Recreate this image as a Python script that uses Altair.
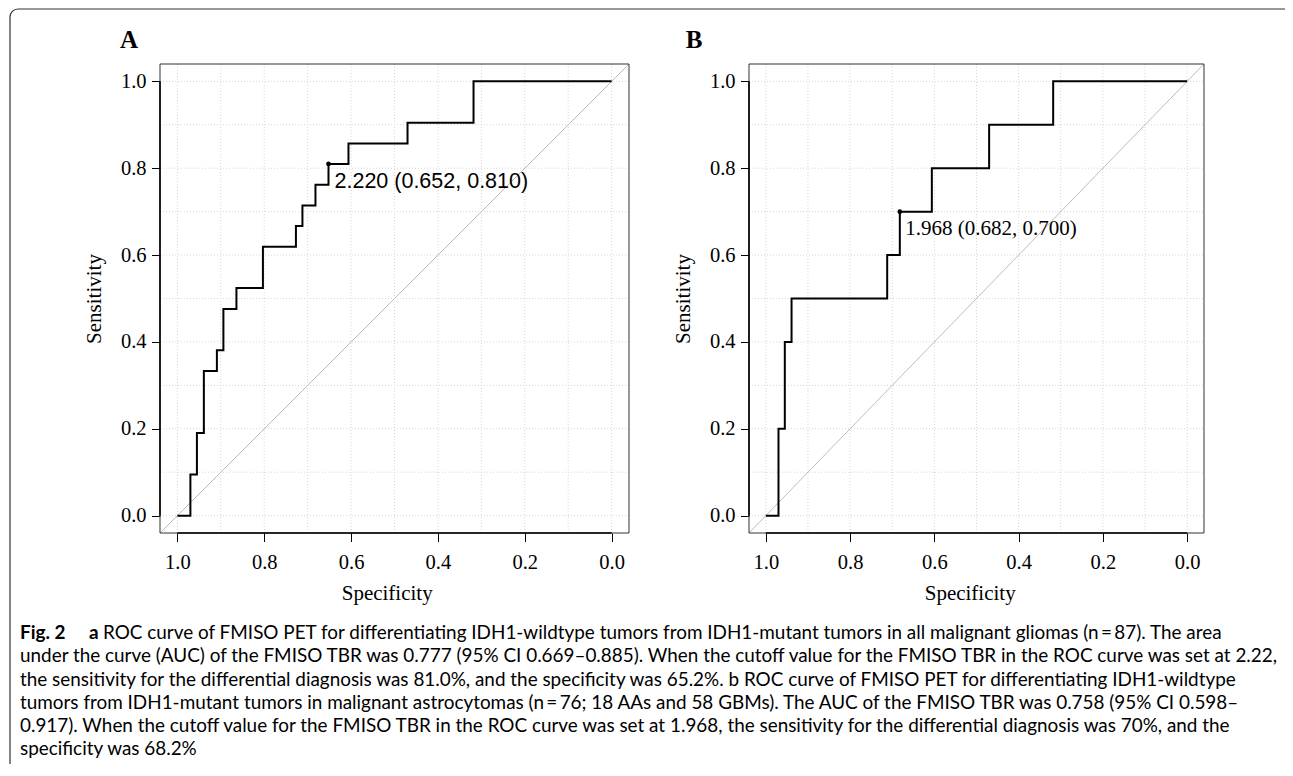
import altair as alt
import pandas as pd

# ---------------- data ----------------
# Panel A: ROC points (specificity, sensitivity)
spec_a = [1.000, 0.970, 0.970, 0.955, 0.955, 0.939, 0.939, 0.909, 0.909, 0.894,
          0.894, 0.864, 0.864, 0.803, 0.803, 0.727, 0.727, 0.712, 0.712, 0.682,
          0.682, 0.652, 0.652, 0.606, 0.606, 0.470, 0.470, 0.318, 0.318, 0.000]
sens_a = [0.000, 0.000, 0.095, 0.095, 0.190, 0.190, 0.333, 0.333, 0.381, 0.381,
          0.476, 0.476, 0.524, 0.524, 0.619, 0.619, 0.667, 0.667, 0.714, 0.714,
          0.762, 0.762, 0.810, 0.810, 0.857, 0.857, 0.905, 0.905, 1.000, 1.000]
cut_a_spec = [0.652]
cut_a_sens = [0.810]
cut_a_label = ["2.220 (0.652, 0.810)"]

# Panel B
spec_b = [1.000, 0.970, 0.970, 0.955, 0.955, 0.939, 0.939, 0.712, 0.712, 0.682,
          0.682, 0.606, 0.606, 0.470, 0.470, 0.318, 0.318, 0.000]
sens_b = [0.0, 0.0, 0.2, 0.2, 0.4, 0.4, 0.5, 0.5, 0.6, 0.6,
          0.7, 0.7, 0.8, 0.8, 0.9, 0.9, 1.0, 1.0]
cut_b_spec = [0.682]
cut_b_sens = [0.700]
cut_b_label = ["1.968 (0.682, 0.700)"]

tick_vals = [0.0, 0.2, 0.4, 0.6, 0.8, 1.0]
grid_vals = [0.0, 0.1, 0.2, 0.3, 0.4, 0.5, 0.6, 0.7, 0.8, 0.9, 1.0]
axis_lo, axis_hi = -0.04, 1.04

caption_fig = "Fig. 2"
caption_a = "a"
caption_first = ("ROC curve of FMISO PET for differentiating IDH1-wildtype tumors from "
                 "IDH1-mutant tumors in all malignant gliomas (n\u2009=\u200987). The area")
caption_rest = [
    "under the curve (AUC) of the FMISO TBR was 0.777 (95% CI 0.669\u20130.885). When the cutoff value for the FMISO TBR in the ROC curve was set at 2.22,",
    "the sensitivity for the differential diagnosis was 81.0%, and the specificity was 65.2%. b ROC curve of FMISO PET for differentiating IDH1-wildtype",
    "tumors from IDH1-mutant tumors in malignant astrocytomas (n\u2009=\u200976; 18 AAs and 58 GBMs). The AUC of the FMISO TBR was 0.758 (95% CI 0.598\u2013",
    "0.917). When the cutoff value for the FMISO TBR in the ROC curve was set at 1.968, the sensitivity for the differential diagnosis was 70%, and the",
    "specificity was 68.2%",
]

# ---------------- styling ----------------
SERIF = "Liberation Serif, Times New Roman, serif"
SANS = "Liberation Sans, Arial, sans-serif"
CAPF = "Lato, Roboto, sans-serif"
CAP_SIZE = 18.9

W, H = 1277, 756
PLOT_BOTTOM, PLOT_TOP = 525, 56
one = pd.DataFrame({"k": [0]})


def panel(spec, sens, cspec, csens, clabel, xr, left_px, title_x, afont, asize, adx, ady):
    def xs():
        return alt.Scale(domain=[axis_hi, axis_lo], range=xr, nice=False, zero=False)

    def ys():
        return alt.Scale(domain=[axis_lo, axis_hi], range=[PLOT_BOTTOM, PLOT_TOP],
                         nice=False, zero=False)

    xaxis = alt.Axis(orient="bottom", offset=PLOT_BOTTOM - H, values=tick_vals, format=".1f",
                     domain=False, grid=False, tickSize=8.5, tickColor="black", tickWidth=1,
                     labelFont=SERIF, labelFontSize=20.5, labelColor="black", labelPadding=10.6,
                     labelFlush=False, labelOverlap=False,
                     title="Specificity", titleFont=SERIF, titleFontSize=21,
                     titleFontWeight="normal", titleColor="black", titlePadding=9.7,
                     titleX=title_x)
    yaxis = alt.Axis(orient="left", offset=-left_px, values=tick_vals, format=".1f",
                     domain=False, grid=False, tickSize=8.5, tickColor="black", tickWidth=1,
                     labelFont=SERIF, labelFontSize=20.5, labelColor="black", labelPadding=5.5,
                     labelFlush=False, labelOverlap=False,
                     title="Sensitivity", titleFont=SERIF, titleFontSize=21,
                     titleFontWeight="normal", titleColor="black", titlePadding=16)

    gdf = pd.DataFrame({"g": grid_vals})
    vgrid = alt.Chart(gdf).mark_rule(color="#d6d6d6", strokeDash=[1, 2], strokeWidth=1).encode(
        x=alt.X("g:Q", scale=xs(), axis=None),
        y=alt.YDatum(axis_lo, scale=ys(), axis=None), y2=alt.Y2Datum(axis_hi))
    hgrid = alt.Chart(gdf).mark_rule(color="#d6d6d6", strokeDash=[1, 2], strokeWidth=1).encode(
        y=alt.Y("g:Q", scale=ys(), axis=None),
        x=alt.XDatum(axis_hi, scale=xs(), axis=None), x2=alt.X2Datum(axis_lo))
    diag = alt.Chart(one).mark_rule(color="#bdbdbd", strokeWidth=1).encode(
        x=alt.XDatum(axis_hi, scale=xs(), axis=None), x2=alt.X2Datum(axis_lo),
        y=alt.YDatum(axis_lo, scale=ys(), axis=None), y2=alt.Y2Datum(axis_hi))
    box = alt.Chart(one).mark_rect(fillOpacity=0, stroke="#333333", strokeWidth=1).encode(
        x=alt.XDatum(axis_hi, scale=xs(), axis=None), x2=alt.X2Datum(axis_lo),
        y=alt.YDatum(axis_lo, scale=ys(), axis=None), y2=alt.Y2Datum(axis_hi))
    xline = alt.Chart(one).mark_rule(color="black", strokeWidth=1.6).encode(
        x=alt.XDatum(1.0, scale=xs(), axis=None), x2=alt.X2Datum(0.0),
        y=alt.YDatum(axis_lo, scale=ys(), axis=None))
    yline = alt.Chart(one).mark_rule(color="black", strokeWidth=1.6).encode(
        x=alt.XDatum(axis_hi, scale=xs(), axis=None),
        y=alt.YDatum(0.0, scale=ys(), axis=None), y2=alt.Y2Datum(1.0))

    df = pd.DataFrame({"spec": spec, "sens": sens, "i": list(range(len(spec)))})
    curve = alt.Chart(df).mark_line(color="black", strokeWidth=2).encode(
        x=alt.X("spec:Q", scale=xs(), axis=xaxis),
        y=alt.Y("sens:Q", scale=ys(), axis=yaxis),
        order=alt.Order("i:Q"))

    cdf = pd.DataFrame({"spec": cspec, "sens": csens, "label": clabel})
    pt = alt.Chart(cdf).mark_point(filled=True, size=22, color="black", opacity=1).encode(
        x=alt.X("spec:Q", scale=xs(), axis=None), y=alt.Y("sens:Q", scale=ys(), axis=None))
    txt = alt.Chart(cdf).mark_text(align="left", baseline="alphabetic", dx=adx, dy=ady,
                                   font=afont, fontSize=asize, color="black").encode(
        x=alt.X("spec:Q", scale=xs(), axis=None), y=alt.Y("sens:Q", scale=ys(), axis=None),
        text="label:N")
    return [vgrid, hgrid, diag, box, xline, yline, curve, pt, txt]


units_a = panel(spec_a, sens_a, cut_a_spec, cut_a_sens, cut_a_label, [152, 621], 152, 378.7,
                SANS, 21.5, 6, 24)
units_b = panel(spec_b, sens_b, cut_b_spec, cut_b_sens, cut_b_label, [741, 1196], 741, 961.7,
                SERIF, 21, 5.5, 23.3)

letter_a = alt.Chart(one).mark_text(text="A", font=SERIF, fontSize=25, fontWeight="bold",
                                    align="center", baseline="alphabetic", color="black").encode(
    x=alt.value(121), y=alt.value(39.7))
letter_b = alt.Chart(one).mark_text(text="B", font=SERIF, fontSize=25, fontWeight="bold",
                                    align="center", baseline="alphabetic", color="black").encode(
    x=alt.value(686), y=alt.value(40.3))

cap_fig = alt.Chart(one).mark_text(text=caption_fig, font=CAPF, fontSize=CAP_SIZE, fontWeight="bold",
                                   align="left", baseline="alphabetic", color="black").encode(
    x=alt.value(12), y=alt.value(631))
cap_a = alt.Chart(one).mark_text(text=caption_a, font=CAPF, fontSize=CAP_SIZE, fontWeight="bold",
                                 align="left", baseline="alphabetic", color="black").encode(
    x=alt.value(81), y=alt.value(631))
cap_first = alt.Chart(one).mark_text(text=caption_first, font=CAPF, fontSize=CAP_SIZE,
                                     align="left", baseline="alphabetic", color="black").encode(
    x=alt.value(95), y=alt.value(631))
cap_rest = alt.Chart(one).mark_text(text=caption_rest, font=CAPF, fontSize=CAP_SIZE, lineHeight=23.3,
                                    align="left", baseline="alphabetic", color="black").encode(
    x=alt.value(12), y=alt.value(654.3))

border = alt.Chart(one).mark_rect(fillOpacity=0, stroke="#333333", strokeWidth=1.2,
                                  cornerRadius=8, clip=True).encode(
    x=alt.value(2), x2=alt.value(1310), y=alt.value(1), y2=alt.value(820))

chart = alt.layer(*units_a, *units_b, letter_a, letter_b, cap_fig, cap_a, cap_first, cap_rest,
                  border).resolve_scale(x="independent", y="independent").properties(
    width=W, height=H, autosize=alt.AutoSizeParams(type="none"), padding=0
).configure_view(stroke=None)

chart.save("out.html", embed_options={"renderer": "svg", "actions": False})
